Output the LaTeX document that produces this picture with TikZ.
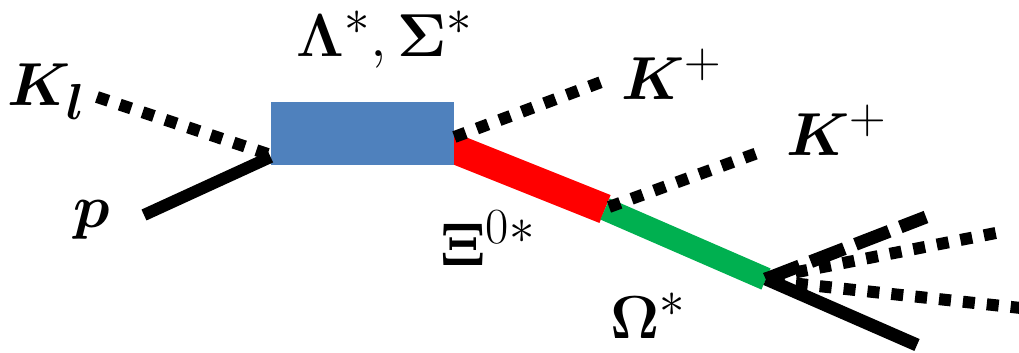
\documentclass[tikz,border=0pt]{standalone}
\usepackage{amsmath}
\usepackage{bm}
\usepackage{graphicx}
\usepackage{tikz}
\usepackage{xcolor}

\definecolor{resblue}{HTML}{4F81BD}
\definecolor{xigreen}{HTML}{00B050}

\newcommand{\biglab}[1]{\scalebox{1.22}{\Huge #1}}

\begin{document}
\begin{tikzpicture}[
        x=0.5pt, y=-0.5pt,
        every node/.style={inner sep=0pt},
        lab/.style={anchor=center},
        resbox/.style={fill=resblue, minimum width=91.5pt, minimum height=31.5pt},
        kaon/.style={line width=6pt, dash pattern=on 6pt off 6pt},
        dashkaon/.style={line width=6.5pt, dash pattern=on 18pt off 6pt},
        hadron/.style={line width=6pt},
        xiline/.style={line width=15pt, draw=red},
        omline/.style={line width=11.5pt, draw=xigreen}
    ]

    \useasboundingbox (0,0) rectangle (1019,353);
    \clip (0,0) rectangle (1019,353);

    % points of the lines
    \coordinate (kin) at (97,97);
    \coordinate (pin) at (144,215);
    \coordinate (xis) at (440,143);
    \coordinate (xie) at (605,209);
    \coordinate (v) at (766,279);
    \coordinate (kpa) at (604,81);
    \coordinate (kpb) at (763,151);
    \coordinate (da) at (926,217);
    \coordinate (db) at (1006,231);
    \coordinate (dc) at (1030,309);
    \coordinate (pout) at (917,345);

    % resonances
    \draw[xiline] (xis) -- (xie);
    \draw[omline] (xie) -- (v);

    \node[resbox] (res) at (362.5,133.5) {};

    % incoming
    \draw[kaon] (kin) -- (res.west |- 0,155);
    \draw[hadron] (pin) -- (res.west |- 0,157);

    % outgoing kaons
    \draw[kaon] (res.east |- 0,137) -- (kpa);
    \draw[kaon] (xie) ++(4,-2) -- (kpb);

    % decay of the Omega
    \draw[dashkaon] (v) -- (da);
    \draw[kaon] (v) ++(6,-2) -- (db);
    \draw[kaon] (v) ++(6,2) -- (dc);
    \draw[hadron, line width=6.5pt] (v) -- (pout);
    \fill (v) ++(-3,-6) -- ++(12,-3) -- ++(8,10) -- ++(-14,6) -- cycle;

    % labels
    \node[lab] (klab) at (47,92) {\biglab{$\boldsymbol{K}_{\boldsymbol{l}}$}};
    \node[lab] (plab) at (92,220) {\biglab{$\boldsymbol{p}$}};
    \node[lab] (reslab) at (385,40) {\biglab{$\mathbf{\Lambda}^{*}\mathbf{,}\,\mathbf{\Sigma}^{*}$}};
    \node[lab] (kpalab) at (672,74) {\biglab{$\boldsymbol{K}^{+}$}};
    \node[lab] (kpblab) at (837,130) {\biglab{$\boldsymbol{K}^{+}$}};
    \node[lab] (xilab) at (488,238) {\biglab{$\mathbf{\Xi}^{0*}$}};
    \node[lab] (omlab) at (648,316) {\biglab{$\mathbf{\Omega}^{*}$}};

\end{tikzpicture}
\end{document}
